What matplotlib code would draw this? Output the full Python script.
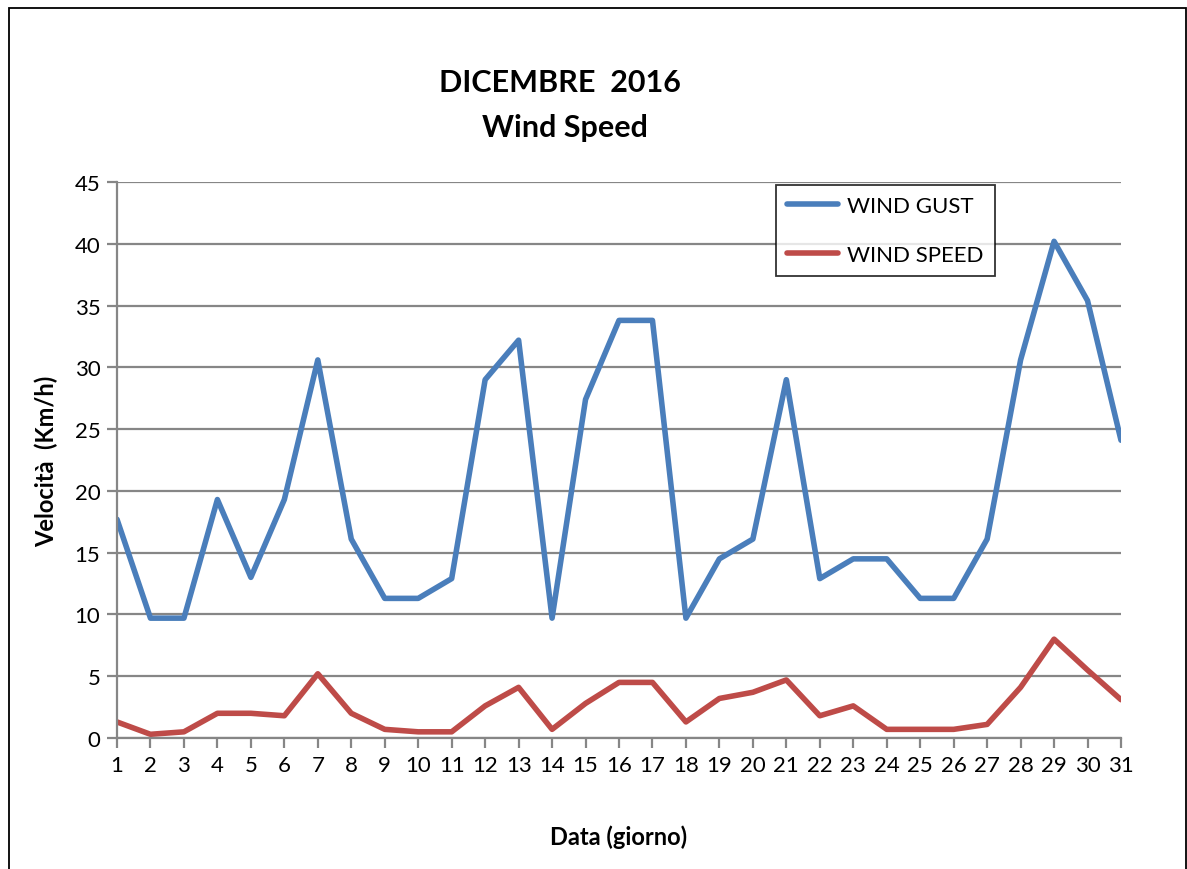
import matplotlib
matplotlib.use("Agg")
import matplotlib.pyplot as plt
from matplotlib.patches import Rectangle

days = list(range(1, 32))
wind_gust = [17.7, 9.7, 9.7, 19.3, 13.0, 19.3, 30.6, 16.1, 11.3, 11.3, 12.9,
             29.0, 32.2, 9.7, 27.4, 33.8, 33.8, 9.7, 14.5, 16.1, 29.0, 12.9,
             14.5, 14.5, 11.3, 11.3, 16.1, 30.6, 40.2, 35.4, 24.1]
wind_speed = [1.3, 0.3, 0.5, 2.0, 2.0, 1.8, 5.2, 2.0, 0.7, 0.5, 0.5,
              2.6, 4.1, 0.7, 2.8, 4.5, 4.5, 1.3, 3.2, 3.7, 4.7, 1.8,
              2.6, 0.7, 0.7, 0.7, 1.1, 4.1, 8.0, 5.5, 3.1]
y_ticks = [0, 5, 10, 15, 20, 25, 30, 35, 40, 45]

plt.rcParams['font.family'] = ['Lato', 'DejaVu Sans']

W, H = 1187, 870
fig = plt.figure(figsize=(W / 100, H / 100), dpi=100)
ax = fig.add_axes([117 / W, 1 - 739 / H, (1121 - 117) / W, (739 - 183) / H])

ax.plot(days, wind_gust, color='#4a7ebb', lw=4, label='WIND GUST',
        solid_joinstyle='round', solid_capstyle='round')
ax.plot(days, wind_speed, color='#be4b48', lw=4, label='WIND SPEED',
        solid_joinstyle='round', solid_capstyle='round')

ax.set_xlim(1, 31)
ax.set_ylim(0, 45)
ax.set_xticks(days)
ax.set_yticks(y_ticks)
ax.grid(axis='y', color='#868686', lw=1.6)
ax.set_axisbelow(True)
for s in ['top', 'right']:
    ax.spines[s].set_visible(False)
for s in ['left', 'bottom']:
    ax.spines[s].set_color('#868686')
    ax.spines[s].set_linewidth(1.6)
ax.tick_params(axis='both', direction='out', length=7, width=1.6,
               color='#868686', labelsize=16, pad=5)

ax.set_xlabel('Data (giorno)', fontsize=17, fontweight='bold', labelpad=36)
ax.set_ylabel('Velocità  (Km/h)', fontsize=17, fontweight='bold', labelpad=12)

fig.text(560 / W, 1 - 83 / H, 'DICEMBRE  2016', ha='center', va='center',
         fontsize=22, fontweight='bold')
fig.text(565 / W, 1 - 128 / H, 'Wind Speed', ha='center', va='center',
         fontsize=22, fontweight='bold')

leg = ax.legend(loc='upper left',
                bbox_to_anchor=((776 - 117) / (1121 - 117), 1 - (186 - 183) / (739 - 183)),
                borderaxespad=0, fontsize=16, frameon=True, fancybox=False,
                handlelength=2.3, handletextpad=0.4, labelspacing=1.3,
                borderpad=0.5)
leg.get_frame().set_edgecolor('black')
leg.get_frame().set_linewidth(1.3)

fig.patches.append(Rectangle((9 / W, -0.01), (W - 10) / W, 1 - 9 / H + 0.01,
                             transform=fig.transFigure, fill=False,
                             edgecolor='black', lw=1.3))

fig.savefig('out.png', dpi=100)
